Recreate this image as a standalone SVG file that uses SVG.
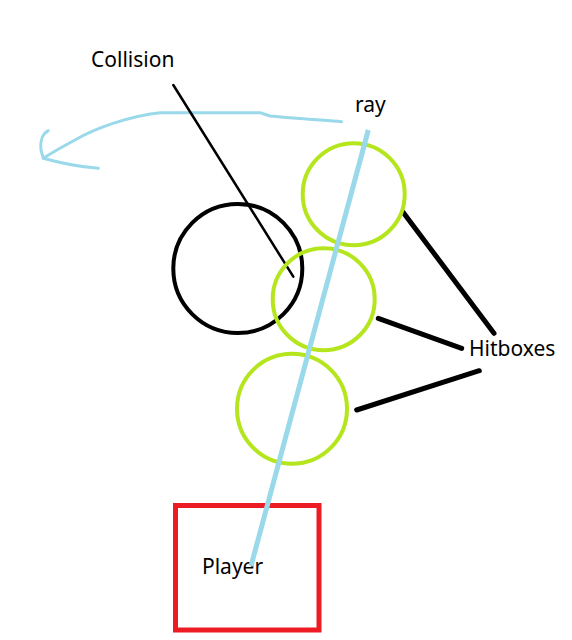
<svg xmlns="http://www.w3.org/2000/svg" width="572" height="640" viewBox="0 0 572 640">
<style>
text{font-family:"Noto Sans","Open Sans","DejaVu Sans",sans-serif;font-size:21px;fill:#000}
.hb{fill:none;stroke:#B5E61D;stroke-width:4}
.blk{stroke:#000;stroke-linecap:round}
.ray{stroke:#99D9EA;stroke-width:5;fill:none}
.arc{stroke:#99D9EA;stroke-width:3;fill:none;stroke-linejoin:round;stroke-linecap:round}
</style>
<rect width="572" height="640" fill="#fff"/>
<g id="connectors">
<path class="arc" d="M341.7,121.7 C320,120 290,118 270,116 L260,112.7 L160,112.7 C130,116 95,128 75,140 C60,148 50,154 43.3,158.3"/>
<path class="arc" d="M48.3,130.7 C42,134 40,142 41,150 L43.3,158.3 C60,163 80,167 98.3,168.3"/>
<line class="blk" x1="173.3" y1="85" x2="293.3" y2="276.7" stroke-width="2.5"/>
<line class="blk" x1="402.7" y1="211.7" x2="494" y2="333.3" stroke-width="5"/>
<line class="blk" x1="378.3" y1="318.3" x2="461.7" y2="348.3" stroke-width="5"/>
<line class="blk" x1="356.7" y1="410" x2="479.3" y2="370.7" stroke-width="5"/>
</g>
<g id="collision-circle"><circle cx="237.8" cy="268.5" r="64.5" fill="none" stroke="#000" stroke-width="4"/></g>
<g id="hitbox1"><circle class="hb" cx="353.7" cy="194.2" r="51"/></g>
<g id="hitbox2"><circle class="hb" cx="323.7" cy="299.2" r="51"/></g>
<g id="hitbox3"><circle class="hb" cx="292" cy="408.7" r="55"/></g>
<g id="player"><rect x="175.5" y="505.5" width="143.5" height="124.5" fill="none" stroke="#ED1C24" stroke-width="5"/><text x="202" y="574">Player</text></g>
<g id="ray-line"><line class="ray" x1="368.3" y1="130" x2="251" y2="566"/></g>
<g id="labels">
<text x="91" y="67">Collision</text>
<text x="355" y="112">ray</text>
<text x="469" y="356">Hitboxes</text>
</g>
</svg>
